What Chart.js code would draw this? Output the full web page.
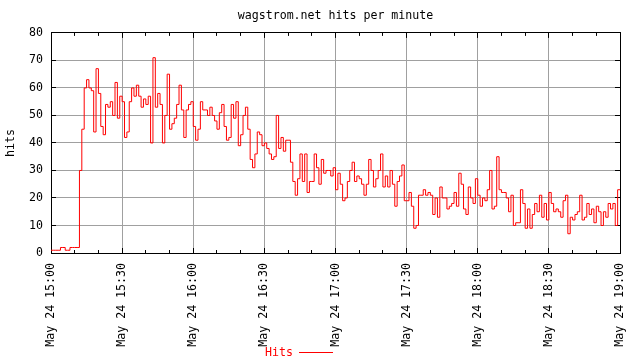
<!DOCTYPE html>
<html>
<head>
<meta charset="utf-8">
<title>wagstrom.net hits per minute</title>
<script src="https://cdn.jsdelivr.net/npm/chart.js@4/dist/chart.umd.min.js"></script>
<style>
  html, body { margin: 0; padding: 0; background: #fff; }
  canvas { display: block; }
</style>
</head>
<body>
<canvas id="chart" width="640" height="360"></canvas>
<script>
// hits per minute, one array per hour (index 0 = 15:00)
const hits15 = [1, 1, 1, 1, 2, 2, 1, 1, 2, 2,
                2, 2, 30, 45, 60, 63, 60, 59, 44, 67,
                58, 46, 43, 54, 53, 55, 50, 62, 49, 57,
                55, 42, 44, 55, 60, 57, 61, 57, 53, 56,
                54, 57, 40, 71, 53, 58, 54, 40, 50, 65,
                45, 47, 49, 54, 61, 52, 42, 52, 54, 55];
const hits16 = [46, 41, 45, 55, 52, 52, 50, 53, 50, 48,
                45, 51, 54, 46, 41, 42, 54, 49, 55, 39,
                43, 50, 53, 45, 34, 31, 36, 44, 43, 39,
                40, 38, 36, 34, 35, 50, 38, 42, 37, 41,
                41, 33, 26, 21, 27, 36, 26, 36, 22, 26,
                26, 36, 31, 25, 34, 29, 30, 30, 28, 31];
const hits17 = [23, 29, 25, 19, 20, 26, 30, 33, 26, 28,
                27, 25, 21, 25, 34, 30, 24, 27, 30, 36,
                24, 28, 24, 30, 25, 17, 26, 28, 32, 19,
                19, 22, 17, 9, 10, 21, 21, 23, 21, 22,
                21, 14, 20, 13, 24, 20, 20, 16, 17, 18,
                22, 17, 29, 25, 16, 14, 24, 20, 18, 27];
const hits18 = [21, 17, 20, 19, 23, 30, 16, 17, 35, 23,
                22, 22, 20, 15, 21, 10, 11, 11, 23, 18,
                9, 16, 9, 14, 18, 15, 21, 13, 18, 12,
                22, 18, 15, 16, 15, 13, 19, 21, 7, 13,
                12, 14, 15, 21, 12, 13, 18, 14, 16, 11,
                17, 15, 10, 15, 13, 18, 16, 18, 10, 23];
const hits19 = [23];

// one label every 30 minutes
const tickLabels = ['May 24 15:00', 'May 24 15:30', 'May 24 16:00', 'May 24 16:30',
                    'May 24 17:00', 'May 24 17:30', 'May 24 18:00', 'May 24 18:30',
                    'May 24 19:00'];
const seriesLabel = 'Hits';

const hits = [].concat(hits15, hits16, hits17, hits18, hits19);
const points = hits.map((v, i) => ({ x: i, y: v }));
const lastMinute = hits.length - 1;

const gridGray = '#a0a0a0';
const none = 'rgba(0,0,0,0)';
const fontMono = { family: 'DejaVu Sans Mono', size: 11.6, weight: 'normal' };

Chart.defaults.font = fontMono;
Chart.defaults.color = '#000';

const fixWidth = w => s => { s.width = w; };
// also drop the side padding Chart.js reserves for the rotated end labels
const fixHeight = h => s => { s.height = h; s.paddingLeft = 0; s.paddingRight = 0; };

// gnuplot style key under the plot: text first, then the line sample
const keyBelow = {
  id: 'keyBelow',
  afterDraw(chart) {
    const ds = chart.data.datasets[0];
    const ctx = chart.ctx;
    const y = 353;
    ctx.save();
    ctx.font = fontMono.size + 'px ' + fontMono.family;
    ctx.fillStyle = ds.borderColor;
    ctx.textBaseline = 'middle';
    ctx.textAlign = 'left';
    ctx.fillText(ds.label, 265, y);
    ctx.strokeStyle = ds.borderColor;
    ctx.lineWidth = 1;
    ctx.beginPath();
    ctx.moveTo(299, y - 0.5);
    ctx.lineTo(333, y - 0.5);
    ctx.stroke();
    ctx.restore();
  }
};

// extra axes only used for the inward tick marks and the frame
function tickAxis(position, step, len, border, max) {
  const horiz = position === 'top' || position === 'bottom';
  return {
    type: 'linear',
    position: position,
    display: true,
    min: 0,
    max: max,
    weight: 0,
    afterFit: horiz ? fixHeight(0) : fixWidth(position === 'right' ? 20 : 0),
    ticks: { display: false, stepSize: step },
    grid: { drawOnChartArea: false, tickLength: -len, tickColor: '#000' },
    border: { display: border, color: '#000', width: 1 }
  };
}

new Chart(document.getElementById('chart'), {
  type: 'line',
  data: {
    datasets: [{
      label: seriesLabel,
      data: points,
      borderColor: '#ff0000',
      borderWidth: 1,
      stepped: true,
      pointRadius: 0,
      fill: false,
      xAxisID: 'x',
      yAxisID: 'y'
    }]
  },
  options: {
    responsive: false,
    animation: false,
    layout: { padding: 0 },
    plugins: {
      legend: { display: false },
      tooltip: { enabled: false },
      title: {
        display: true,
        text: 'wagstrom.net hits per minute',
        fullSize: false,
        color: '#000',
        font: fontMono,
        padding: { top: 9, bottom: 10 }
      }
    },
    scales: {
      x: {
        type: 'linear',
        position: 'bottom',
        min: 0,
        max: lastMinute,
        weight: 1,
        afterFit: fixHeight(107),
        ticks: {
          stepSize: 10,
          autoSkip: false,
          minRotation: 90,
          maxRotation: 90,
          padding: 13,
          callback: v => (v % 30 === 0 ? tickLabels[v / 30] : '')
        },
        grid: {
          color: c => (c.tick && c.tick.value % 30 === 0 && c.tick.value > 0 && c.tick.value < lastMinute) ? gridGray : none,
          tickLength: -3,
          tickColor: '#000'
        },
        border: { display: true, color: '#000', width: 1 }
      },
      xMajor: tickAxis('bottom', 30, 5, false, lastMinute),
      xTop: tickAxis('top', 10, 3, true, lastMinute),
      xTopMajor: tickAxis('top', 30, 5, false, lastMinute),
      y: {
        position: 'left',
        min: 0,
        max: 80,
        afterFit: fixWidth(51),
        ticks: { stepSize: 10, padding: 13 },
        title: { display: true, text: 'hits', color: '#000', font: fontMono, padding: { top: 4, bottom: 0 } },
        grid: {
          color: c => (c.tick && c.tick.value > 0 && c.tick.value < 80) ? gridGray : none,
          tickLength: -5,
          tickColor: '#000'
        },
        border: { display: true, color: '#000', width: 1 }
      },
      yRight: tickAxis('right', 10, 5, true, 80)
    }
  },
  plugins: [keyBelow]
});
</script>
</body>
</html>
